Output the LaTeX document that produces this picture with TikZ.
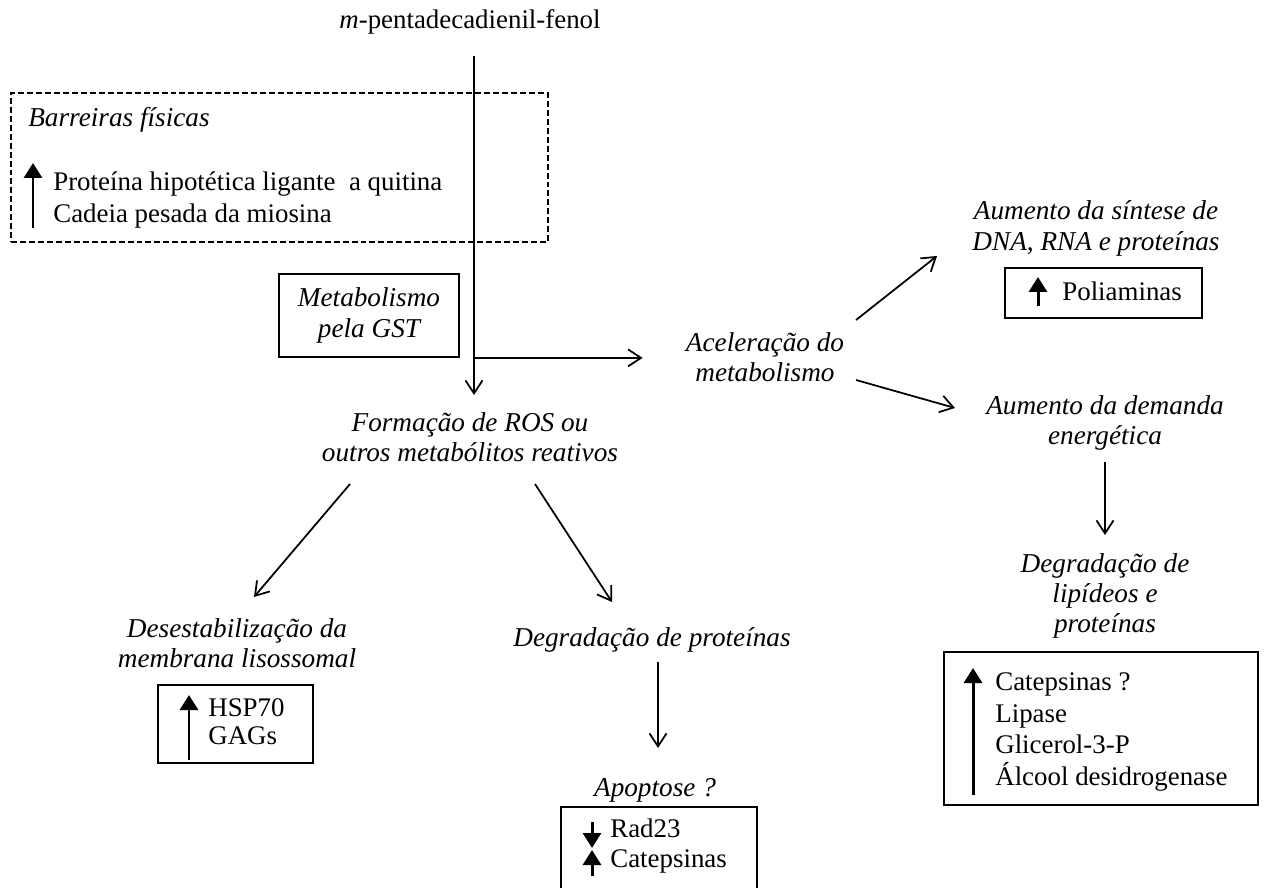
\documentclass[tikz,border=0pt]{standalone}
\usepackage{fontspec}
\setmainfont{Liberation Serif}
\usetikzlibrary{positioning,calc,arrows.meta}

\begin{document}
\begin{tikzpicture}[
    x=0.02cm, y=-0.02cm,
    every node/.style={inner sep=0pt},
    stage/.style={font=\fontsize{15.5}{17.2}\selectfont\itshape, align=center},
    genes/.style={font=\fontsize{15.3}{18}\selectfont, align=left, anchor=west},
    box/.style={draw, line width=1pt},
    flow/.style={line width=1pt, -{Straight Barb[length=2.6mm,width=3.4mm]}},
    regarrow/.style={line width=1.7pt, -{Triangle[length=3mm,width=3.6mm]}},
  ]
  \useasboundingbox (0,0) rectangle (1274,888);

  \node (fenol) at (470,22) [font=\fontsize{15.3}{18}\selectfont] {\textit{m}-pentadecadienil-fenol};

  % barreiras fisicas
  \node (barr-box) at (279.5,167.5) [draw, line width=0.8pt, dash pattern=on 3.4pt off 1.7pt, minimum width=10.74cm, minimum height=2.98cm] {};
  \node (barr) at (28,120) [stage, anchor=west] {Barreiras físicas};
  \node (barr-genes) at (53,200) [genes] {Proteína hipotética ligante~ a quitina\\Cadeia pesada da miosina};
  \draw[regarrow] ([shift={(-20,28)}]barr-genes.west) -- ([shift={(-20,-37)}]barr-genes.west);

  \node (gst) at (369,315.5) [box, stage, minimum width=3.6cm, minimum height=1.66cm] {Metabolismo\\pela GST};
  \node (ros) at (470,437) [stage] {Formação de ROS ou\\outros metabólitos reativos};

  \coordinate (stem) at ([shift={(4,34)}]fenol.center);
  \coordinate (stem-gst) at (stem |- gst.south);
  \draw[flow] (stem) -- ([shift={(4,-42)}]ros.center);

  % aceleracao do metabolismo
  \node (acel) at (765,357) [stage] {Aceleração do\\metabolismo};
  \draw[flow, shorten >=0.86cm] (stem-gst) -- (stem-gst -| acel.west);

  \node (sint) at (1096,228.5) [stage] {Aumento da síntese de\\DNA, RNA e proteínas};
  \node (pol-box) at (1103.5,293) [box, minimum width=3.94cm, minimum height=1cm] {};
  \node (pol) at (1062,291) [genes] {Poliaminas};
  \draw[regarrow] ([shift={(-24,15)}]pol.west) -- ([shift={(-24,-14)}]pol.west);

  \node (dem) at (1105,423) [stage] {Aumento da demanda\\energética};
  \node (degl) at (1105,596) [stage] {Degradação de\\lipídeos e\\proteínas};
  \node (degl-box) at (1101,728.5) [box, minimum width=6.28cm, minimum height=3.06cm] {};
  \node (degl-genes) at (995,732) [genes] {Catepsinas ?\\Lipase\\Glicerol-3-P\\Álcool desidrogenase};
  \draw[regarrow] ([shift={(-22,63)}]degl-genes.west) -- ([shift={(-22,-64)}]degl-genes.west);

  \draw[flow] ([shift={(91,-37)}]acel.center) -- ([shift={(-159,27.5)}]sint.center);
  \draw[flow] ([shift={(91,23)}]acel.center) -- ([shift={(-150,-15)}]dem.center);
  \draw[flow] ([shift={(0,39)}]dem.center) -- ([shift={(0,-61)}]degl.center);

  % ramos de ROS
  \node (des) at (237,643) [stage] {Desestabilização da\\membrana lisossomal};
  \node (hsp-box) at (235.5,724) [box, minimum width=3.1cm, minimum height=1.56cm] {};
  \node (hsp) at (208,722) [genes, font=\fontsize{15.3}{16}\selectfont] {HSP70\\GAGs};
  \draw[regarrow] ([shift={(-19,38)}]hsp.west) -- ([shift={(-19,-27)}]hsp.west);

  \node (degp) at (652,640) [stage] {Degradação de proteínas};
  \node (apo) at (655,790) [stage] {Apoptose ?};
  \node (apo-box) at (659,863.5) [box, minimum width=3.92cm, minimum height=2.26cm] {};
  \node (apo-genes) at (610,846) [genes, font=\fontsize{15.3}{17}\selectfont] {Rad23\\Catepsinas};
  \draw[regarrow] ([shift={(-18,-24)}]apo-genes.west) -- ([shift={(-18,2)}]apo-genes.west);
  \draw[regarrow] ([shift={(-18,30)}]apo-genes.west) -- ([shift={(-18,4)}]apo-genes.west);

  \draw[flow] ([shift={(-120,47)}]ros.center) -- ([shift={(17,-46)}]des.center);
  \draw[flow] ([shift={(65,47)}]ros.center) -- ([shift={(-40,-38)}]degp.center);
  \draw[flow] ([shift={(6,22)}]degp.center) -- ([shift={(3,-42)}]apo.center);
\end{tikzpicture}
\end{document}
